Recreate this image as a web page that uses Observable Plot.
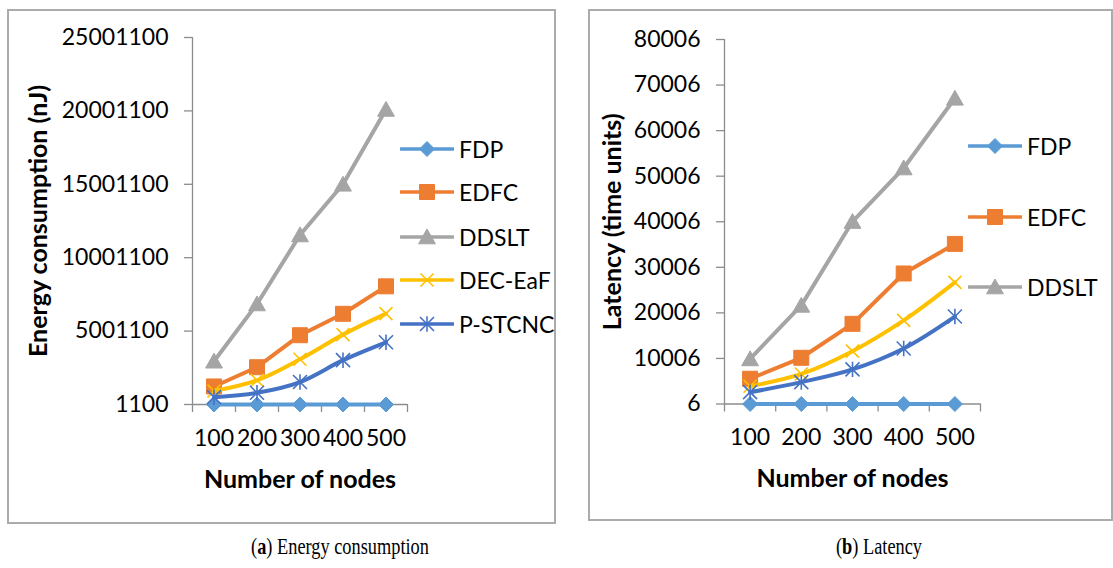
<!DOCTYPE html>
<html><head><meta charset="utf-8">
<script src="https://cdn.jsdelivr.net/npm/d3@7"></script>
<script src="https://cdn.jsdelivr.net/npm/@observablehq/plot@0.6"></script>
<style>
html,body{margin:0;padding:0;background:#fff;}
#root{position:relative;width:1113px;height:568px;overflow:hidden;background:#fff;font-family:Lato,sans-serif;}
.panel{position:absolute;box-sizing:border-box;border:2px solid #ababab;}
.plot{position:absolute;top:0;}
.legend{position:absolute;display:flex;align-items:center;height:24px;font-size:23px;color:#000;white-space:nowrap;}
.legend svg{display:block;}
.legend span{margin-left:5px;}
.caption{position:absolute;top:533px;font-family:"Liberation Serif",serif;font-size:23.5px;color:#000;white-space:nowrap;transform:translateX(-50%) scaleX(0.78);}
</style></head><body><div id="root"></div>
<script>
// ---------- data ----------
const nodes = [100, 200, 300, 400, 500];
const seriesNames = ["FDP", "EDFC", "DDSLT", "DEC-EaF", "P-STCNC"];
const seriesColors = ["#5B9BD5", "#ED7D31", "#A5A5A5", "#FFC000", "#4472C4"];

const energyFDP    = [1100, 1100, 1100, 1100, 1100];
const energyEDFC   = [1230000, 2540000, 4720000, 6180000, 8050000];
const energyDDSLT  = [2950000, 6850000, 11550000, 15000000, 20100000];
const energyDECEaF = [920000, 1650000, 3080000, 4760000, 6190000];
const energyPSTCNC = [500000, 800000, 1530000, 3020000, 4240000];

const latencyFDP    = [6, 6, 6, 6, 6];
const latencyEDFC   = [5550, 10150, 17600, 28650, 35150];
const latencyDDSLT  = [9900, 21650, 40050, 51800, 67100];
const latencyDECEaF = [3900, 6600, 11600, 18350, 26700];
const latencyPSTCNC = [2600, 4800, 7600, 12200, 19200];

const energyTicks  = [1100, 5001100, 10001100, 15001100, 20001100, 25001100];
const latencyTicks = [6, 10006, 20006, 30006, 40006, 50006, 60006, 70006, 80006];
const categoryEdges = [50, 150, 250, 350, 450, 550];

const xTitle = "Number of nodes";
const energyTitle = "Energy consumption (nJ)";
const latencyTitle = "Latency (time units)";
const captionA = ["a", " Energy consumption"];
const captionB = ["b", " Latency"];

// ---------- marker symbols ----------
const rad = size => Math.sqrt(size / Math.PI);
const diamond = {draw(c, s){const r = rad(s); c.moveTo(0,-r); c.lineTo(r,0); c.lineTo(0,r); c.lineTo(-r,0); c.closePath();}};
const square = {draw(c, s){const r = rad(s); c.moveTo(-r,-r); c.lineTo(r,-r); c.lineTo(r,r); c.lineTo(-r,r); c.closePath();}};
const triangle = {draw(c, s){const r = rad(s); c.moveTo(0,-r); c.lineTo(r*1.05,r*0.85); c.lineTo(-r*1.05,r*0.85); c.closePath();}};
const times = {draw(c, s){const r = rad(s); c.moveTo(-r,-r); c.lineTo(r,r); c.moveTo(r,-r); c.lineTo(-r,r);}};
const asterisk = {draw(c, s){const r = rad(s); c.moveTo(-r,-r); c.lineTo(r,r); c.moveTo(r,-r); c.lineTo(-r,r); c.moveTo(0,-r*1.1); c.lineTo(0,r*1.1);}};
const markerSymbols = [diamond, square, triangle, times, asterisk];
const markerR = [7.5, 7.5, 8, 6.5, 7];
const markerFilled = [true, true, true, false, false];
const smooth = [false, false, false, true, true];

const axisColor = "#8c8c8c";
const root = document.getElementById("root");

function addBox(left, top, width, height) {
  const d = document.createElement("div");
  d.className = "panel";
  Object.assign(d.style, {left: left + "px", top: top + "px", width: width + "px", height: height + "px"});
  root.appendChild(d);
}

function makePanel({series, ticks, yTitle, left, width, height, margin, yTitleDx}) {
  const yDomain = [ticks[0], ticks[ticks.length - 1]];
  const marks = [
    Plot.ruleY([yDomain[0]], {stroke: axisColor, strokeWidth: 1.3}),
    Plot.ruleX([categoryEdges[0]], {stroke: axisColor, strokeWidth: 1.3}),
    Plot.axisY({ticks, tickSize: 8, tickPadding: 16, tickFormat: d => String(d), stroke: axisColor, strokeWidth: 1.3, label: null}),
    Plot.axisX({ticks: categoryEdges, tickSize: 8, tickFormat: () => "", stroke: axisColor, strokeWidth: 1.3, label: null}),
    Plot.axisX({ticks: nodes, tickSize: 0, tickPadding: 25, tickFormat: d => String(d), label: null})
  ];
  seriesNames.forEach((name, i) => {
    const rows = nodes.map((n, j) => ({series: name, nodes: n, value: series[i][j]}));
    marks.push(Plot.line(rows, {x: "nodes", y: "value", stroke: seriesColors[i], strokeWidth: 4,
      strokeLinejoin: "round", strokeLinecap: "round", curve: smooth[i] ? "catmull-rom" : "linear"}));
    marks.push(Plot.dot(rows, {x: "nodes", y: "value", symbol: markerSymbols[i], r: markerR[i],
      fill: markerFilled[i] ? seriesColors[i] : "none", stroke: seriesColors[i], strokeWidth: markerFilled[i] ? 1 : 1.6}));
  });
  marks.push(Plot.text([xTitle], {text: d => d, frameAnchor: "bottom", lineAnchor: "middle", textAnchor: "middle", dy: 75, fontWeight: "bold", fontSize: 25, fill: "#000"}));
  marks.push(Plot.text([yTitle], {text: d => d, frameAnchor: "left", lineAnchor: "middle", textAnchor: "middle", dx: yTitleDx, rotate: -90, fontWeight: "bold", fontSize: 25, fill: "#000"}));
  const svg = Plot.plot({
    width, height,
    marginLeft: margin[0], marginRight: margin[1], marginTop: margin[2], marginBottom: margin[3],
    x: {type: "linear", domain: [categoryEdges[0], categoryEdges[categoryEdges.length - 1]]},
    y: {type: "linear", domain: yDomain},
    style: {fontFamily: "Lato, sans-serif", fontSize: "23px", color: "#000", background: "transparent", overflow: "visible"},
    marks
  });
  svg.classList.add("plot");
  svg.style.left = left + "px";
  svg.style.position = "absolute";
  svg.style.top = "0px";
  root.appendChild(svg);
}

function addLegend(indices, x0, ys) {
  indices.forEach((i, k) => {
    const div = document.createElement("div");
    div.className = "legend";
    div.style.left = x0 + "px";
    div.style.top = (ys[k] - 12) + "px";
    const p = d3.path();
    markerSymbols[i].draw(p, Math.PI * markerR[i] * markerR[i]);
    const fill = markerFilled[i] ? seriesColors[i] : "none";
    div.innerHTML = `<svg width="54" height="24" viewBox="0 0 54 24">
      <line x1="1" y1="12" x2="53" y2="12" stroke="${seriesColors[i]}" stroke-width="3.6" stroke-linecap="round"/>
      <path transform="translate(27,12)" d="${p.toString()}" fill="${fill}" stroke="${seriesColors[i]}" stroke-width="${markerFilled[i] ? 1 : 1.6}"/>
    </svg><span>${seriesNames[i]}</span>`;
    root.appendChild(div);
  });
}

function addCaption(parts, cx) {
  const d = document.createElement("div");
  d.className = "caption";
  d.style.left = cx + "px";
  d.innerHTML = `(<b>${parts[0]}</b>)${parts[1]}`;
  root.appendChild(d);
}

addBox(7, 9, 549, 515);
addBox(588, 9, 525, 512);

makePanel({
  series: [energyFDP, energyEDFC, energyDDSLT, energyDECEaF, energyPSTCNC],
  ticks: energyTicks, yTitle: energyTitle,
  left: 0, width: 560, height: 530, margin: [192, 153, 37, 126], yTitleDx: -154
});
makePanel({
  series: [latencyFDP, latencyEDFC, latencyDDSLT, latencyDECEaF, latencyPSTCNC],
  ticks: latencyTicks, yTitle: latencyTitle,
  left: 560, width: 553, height: 530, margin: [164, 133, 39, 126.5], yTitleDx: -112
});

addLegend([0, 1, 2, 3, 4], 400, [149, 192, 237, 280, 324]);
addLegend([0, 1, 2], 968, [146, 217, 287]);

addCaption(captionA, 340);
addCaption(captionB, 879);
</script></body></html>
